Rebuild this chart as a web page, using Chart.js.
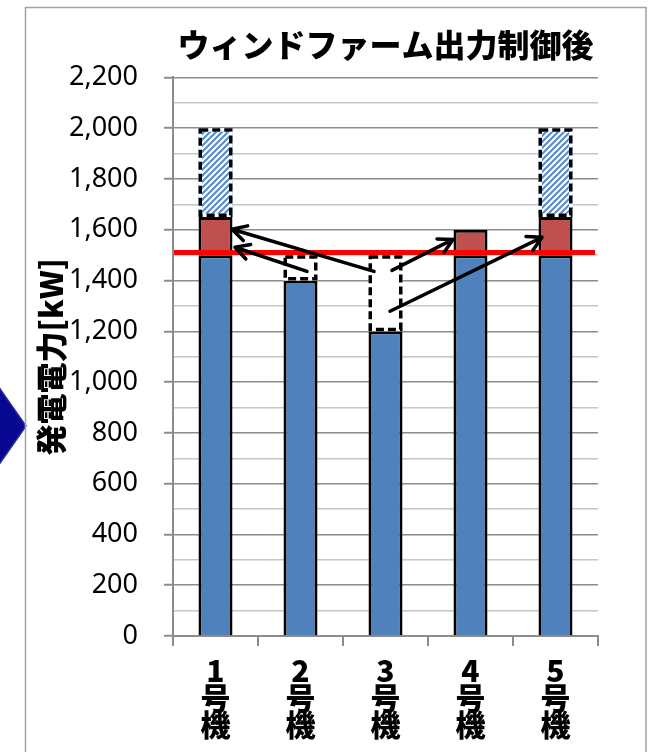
<!DOCTYPE html>
<html>
<head>
<meta charset="utf-8">
<script src="https://cdn.jsdelivr.net/npm/chart.js@4.4.1/dist/chart.umd.min.js"></script>
<style>
  html, body { margin: 0; padding: 0; background: #fff; overflow: hidden; }
  #c { display: block; }
</style>
</head>
<body>
<canvas id="c" width="650" height="752"></canvas>
<script>
// Units of the wind farm
const UNITS = ['1', '2', '3', '4', '5'];
// Output of each unit after control [kW], split into stacked parts
const BASE_OUTPUT = [1500, 1400, 1200, 1500, 1500];   // output up to the per-unit limit
const SHORTFALL   = [null, 100, 300, null, null];      // room below the limit (dashed, empty)
const INCREASE    = [150, null, null, 100, 150];       // extra output picked up by other units
const CURTAILED   = [350, null, null, null, 350];      // output cut by control (hatched)
// Per-unit output limit shown as the red line [kW]
const OUTPUT_LIMIT = 1510;
// Y axis ticks [kW]
const Y_MAJOR_TICKS = [0, 200, 400, 600, 800, 1000, 1200, 1400, 1600, 1800, 2000, 2200];
const Y_MINOR_STEP = 100;
// Transfer arrows: [category position, kW] start -> end
const ARROWS = [
  { from: [1.865, 1436], to: [0.194, 1602] },
  { from: [1.076, 1436], to: [0.229, 1531] },
  { from: [2.076, 1440], to: [2.794, 1562] },
  { from: [2.053, 1279], to: [3.841, 1570] }
];

const labels = UNITS.map(n => [n, '号', '機']);

function makeHatch() {
  const s = 6;
  const p = document.createElement('canvas');
  p.width = s; p.height = s;
  const g = p.getContext('2d');
  g.fillStyle = '#ffffff';
  g.fillRect(0, 0, s, s);
  g.strokeStyle = '#5b8dcc';
  g.lineWidth = 2.2;
  g.beginPath();
  g.moveTo(0, s); g.lineTo(s, 0);
  g.moveTo(-s / 2, s / 2); g.lineTo(s / 2, -s / 2);
  g.moveTo(s / 2, s * 1.5); g.lineTo(s * 1.5, s / 2);
  g.stroke();
  return g.createPattern(p, 'repeat');
}

// Frame and side marker behind the chart
const framePlugin = {
  id: 'frame',
  beforeDraw(chart) {
    const ctx = chart.ctx;
    ctx.save();
    ctx.fillStyle = '#ffffff';
    ctx.fillRect(0, 0, chart.width, chart.height);
    // marker pointing into the panel
    ctx.beginPath();
    ctx.moveTo(-2, 386);
    ctx.lineTo(26, 426);
    ctx.lineTo(-2, 466);
    ctx.closePath();
    ctx.fillStyle = '#07078f';
    ctx.fill();
    ctx.strokeStyle = '#2a2aa8';
    ctx.lineWidth = 1.5;
    ctx.stroke();
    // panel frame
    ctx.strokeStyle = '#a3a3a3';
    ctx.lineWidth = 1.5;
    ctx.strokeRect(25.5, 7.5, 620.5, 800);
    ctx.restore();
  }
};

// Dashed outlines, the limit line and the transfer arrows
const overlayPlugin = {
  id: 'overlay',
  afterDatasetsDraw(chart) {
    const ctx = chart.ctx;
    const xs = chart.scales.x, ys = chart.scales.y;
    const area = chart.chartArea;
    ctx.save();

    [1, 3].forEach(di => {
      const meta = chart.getDatasetMeta(di);
      const values = chart.data.datasets[di].data;
      meta.data.forEach((el, j) => {
        if (values[j] == null) return;
        const { x, y, base, width } = el.getProps(['x', 'y', 'base', 'width'], true);
        const lw = 3.5;
        const l = x - width / 2 + lw / 2;
        const t = Math.min(y, base) + lw / 2;
        const w = width - lw;
        const h = Math.abs(base - y) - lw;
        ctx.lineWidth = lw;
        ctx.setLineDash([]);
        ctx.strokeStyle = '#ffffff';
        ctx.strokeRect(l, t, w, h);
        ctx.setLineDash([8, 4]);
        ctx.strokeStyle = '#000000';
        ctx.strokeRect(l, t, w, h);
      });
    });
    ctx.setLineDash([]);

    const ly = ys.getPixelForValue(OUTPUT_LIMIT);
    ctx.strokeStyle = '#ff0000';
    ctx.lineWidth = 5;
    ctx.beginPath();
    ctx.moveTo(area.left + 1, ly);
    ctx.lineTo(area.right - 3, ly);
    ctx.stroke();

    ctx.strokeStyle = '#000000';
    ctx.lineWidth = 3.5;
    ctx.lineCap = 'round';
    ctx.lineJoin = 'round';
    ARROWS.forEach(a => {
      const x1 = xs.getPixelForValue(a.from[0]), y1 = ys.getPixelForValue(a.from[1]);
      const x2 = xs.getPixelForValue(a.to[0]), y2 = ys.getPixelForValue(a.to[1]);
      const ang = Math.atan2(y2 - y1, x2 - x1);
      const head = 16, spread = 0.5;
      ctx.beginPath();
      ctx.moveTo(x1, y1);
      ctx.lineTo(x2, y2);
      ctx.moveTo(x2 - head * Math.cos(ang - spread), y2 - head * Math.sin(ang - spread));
      ctx.lineTo(x2, y2);
      ctx.lineTo(x2 - head * Math.cos(ang + spread), y2 - head * Math.sin(ang + spread));
      ctx.stroke();
    });
    ctx.restore();
  }
};

const isMajor = v => Y_MAJOR_TICKS.includes(v);
const GRID_MAJOR = '#8c8c8c';
const GRID_MINOR = '#c6c6c6';

new Chart(document.getElementById('c'), {
  type: 'bar',
  data: {
    labels: labels,
    datasets: [
      { label: '出力', data: BASE_OUTPUT, backgroundColor: '#4f81bd', borderColor: '#000000', borderWidth: 3 },
      { label: '余裕', data: SHORTFALL, backgroundColor: '#ffffff', borderWidth: 0 },
      { label: '増加', data: INCREASE, backgroundColor: '#c0504d', borderColor: '#000000', borderWidth: 3 },
      { label: '抑制', data: CURTAILED, backgroundColor: makeHatch(), borderWidth: 0 }
    ]
  },
  options: {
    responsive: false,
    animation: false,
    devicePixelRatio: 1,
    datasets: { bar: { barPercentage: 0.4, categoryPercentage: 1.0 } },
    layout: { padding: { left: 33, right: 52, top: 26, bottom: 0 } },
    plugins: {
      legend: { display: false },
      tooltip: { enabled: false },
      title: {
        display: true,
        text: 'ウィンドファーム出力制御後',
        fullSize: false,
        color: '#000000',
        font: { family: "'Noto Sans CJK JP'", size: 32, weight: '900', lineHeight: 1.2 },
        padding: { top: 0, bottom: 13 }
      }
    },
    scales: {
      x: {
        stacked: true,
        afterFit: s => { s.height = 116; },
        grid: { display: true, drawOnChartArea: false, offset: true, tickLength: 10, color: GRID_MAJOR, lineWidth: 2 },
        border: { color: GRID_MAJOR, width: 2 },
        ticks: {
          padding: 11, maxRotation: 0, autoSkip: false, color: '#000000',
          font: { family: "'Noto Sans CJK JP'", size: 30, weight: '900', lineHeight: 0.9 }
        }
      },
      y: {
        stacked: true,
        min: 0,
        max: 2200,
        afterFit: s => { s.width = 140; },
        ticks: {
          stepSize: Y_MINOR_STEP, autoSkip: false, padding: 26, color: '#000000',
          font: { family: "'Noto Sans'", size: 27 },
          callback: v => isMajor(v) ? v.toLocaleString('en-US') : ''
        },
        grid: {
          color: c => (c.tick && isMajor(c.tick.value)) ? GRID_MAJOR : GRID_MINOR,
          lineWidth: 1.5,
          tickLength: 9,
          tickWidth: 2,
          tickColor: c => (c.tick && isMajor(c.tick.value)) ? GRID_MAJOR : 'rgba(0,0,0,0)'
        },
        border: { color: GRID_MAJOR, width: 2 },
        title: {
          display: true,
          text: '発電電力[kW]',
          color: '#000000',
          padding: 0,
          font: { family: "'Noto Sans CJK JP'", size: 31, weight: '900', lineHeight: 1.2 }
        }
      }
    }
  },
  plugins: [framePlugin, overlayPlugin]
});
</script>
</body>
</html>
